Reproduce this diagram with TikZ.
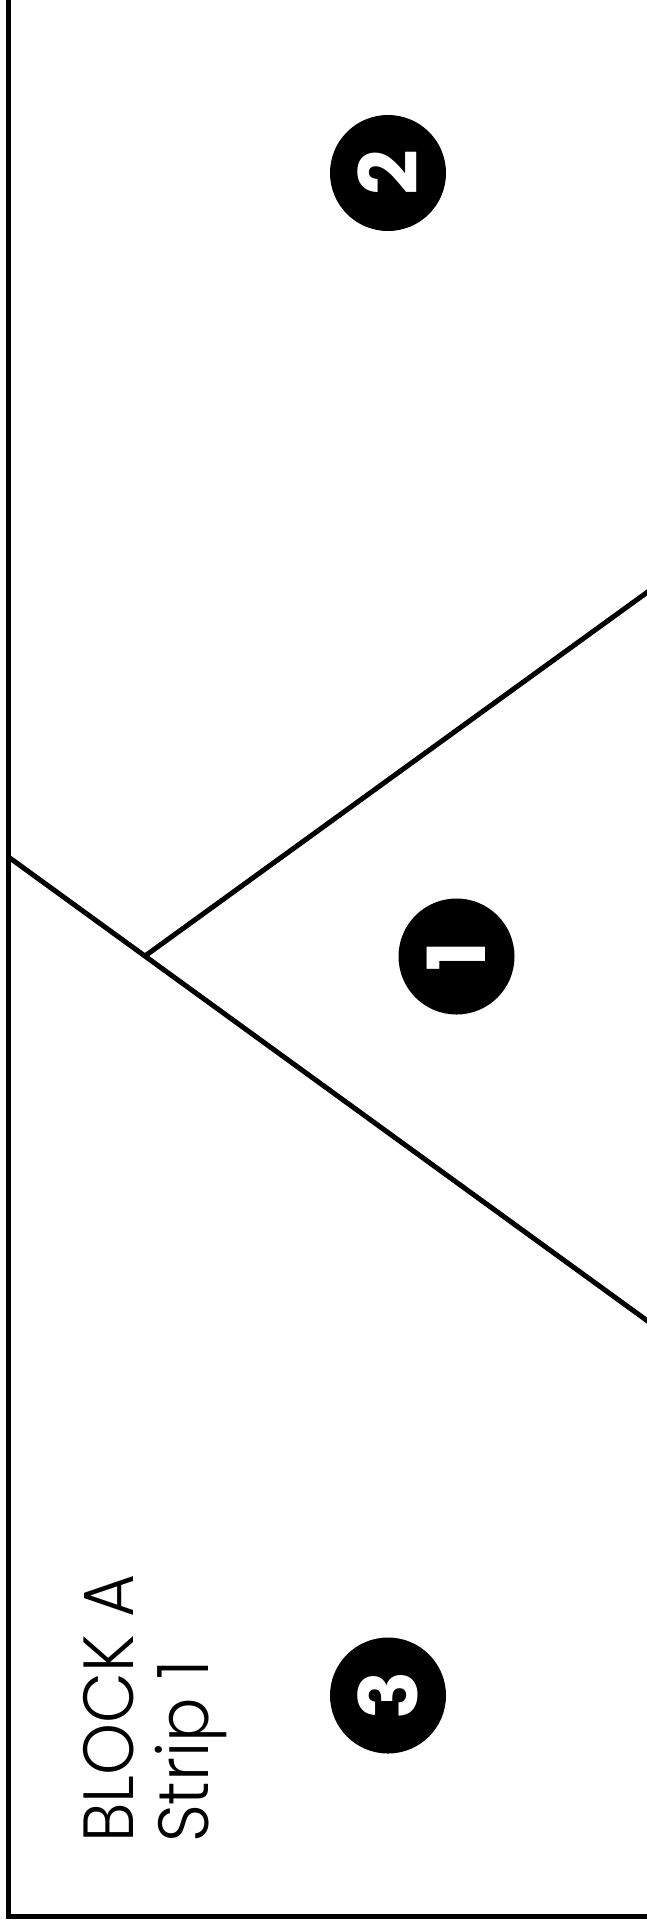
\documentclass[tikz,border=0pt]{standalone}
\usepackage{fontspec}
\setmainfont{Poppins}
\newfontfamily\numfont{Poppins Bold}
\newfontfamily\lblfont[FakeStretch=0.93]{Poppins Light}
\usetikzlibrary{positioning}

\begin{document}
\begin{tikzpicture}[x=1pt, y=-1pt,
  num/.style={circle, fill=black, text=white, minimum size=116pt, inner sep=0pt, rotate=90, font=\numfont\fontsize{80}{80}\selectfont},
  seam/.style={line width=5pt}]
\useasboundingbox (0,0) rectangle (647,1925);
\clip (0,0) rectangle (647,1925);
% outline of the strip
\coordinate (TL) at (8.5,-10);
\coordinate (BL) at (8.5,1916);
\coordinate (BR) at (660,1916);
\draw[seam, line join=miter] (TL) -- (BL) -- (BR);
% seams
\coordinate (A) at (8.5,857);
\coordinate (J) at (145,956);
\coordinate (EA) at (660,1330);
\coordinate (EB) at (660,583);
\draw[seam] (A) -- (EA);
\draw[seam] (J) -- (EB);
% piece numbers
\node[num] (n2) at (388,173) {2};
\node[num] (n1) at (456.5,956.5) {1};
\node[num] (n3) at (388,1695.5) {3};
\node[rotate=90, anchor=north west, align=left, inner sep=0pt, font=\lblfont\fontsize{71}{75}\selectfont] (lbl) at (83,1843) {BLOCK A\\Strip 1};
\end{tikzpicture}
\end{document}
